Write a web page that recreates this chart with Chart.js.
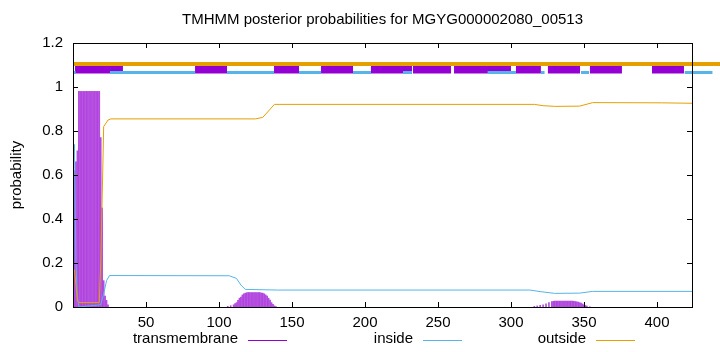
<!DOCTYPE html>
<html>
<head>
<meta charset="utf-8">
<script src="https://cdn.jsdelivr.net/npm/chart.js@4"></script>
<style>
  html, body { margin: 0; padding: 0; background: #fff; }
  #wrap { width: 720px; height: 352px; }
</style>
</head>
<body>
<div id="wrap"><canvas id="tmhmmChart" width="720" height="352"></canvas></div>
<script>
// Residue positions / posterior values
const tmResidues = [
  1, 2, 3, 4, 5, 6, 7, 8, 9, 10, 11, 12, 13, 14, 15, 16, 17, 18, 19, 20, 21, 22, 23, 24,
  106, 108, 110, 111, 112, 113, 114, 115, 116, 117, 118, 119, 120, 121, 122, 123, 124, 125,
  126, 127, 128, 129, 130, 131, 132, 133, 134, 135, 136, 137, 138, 139,
  316, 318, 320, 322, 324, 326, 328, 329, 330, 331, 332, 333, 334, 335, 336, 337, 338, 339,
  340, 341, 342, 343, 344, 345, 346, 347, 348, 349, 350, 351, 352, 354
];
const tmValues = [
  0.62, 0.66, 0.71, 0.98, 0.98, 0.98, 0.98, 0.98, 0.98, 0.98, 0.98, 0.98, 0.98, 0.98, 0.98, 0.98, 0.98, 0.98, 0.77, 0.45, 0.12, 0.05, 0.03, 0.01,
  0.003, 0.006, 0.01, 0.015, 0.02, 0.03, 0.04, 0.045, 0.055, 0.06, 0.063, 0.065, 0.066, 0.066, 0.066, 0.066, 0.066, 0.066,
  0.066, 0.066, 0.065, 0.064, 0.063, 0.06, 0.055, 0.05, 0.04, 0.032, 0.02, 0.012, 0.005, 0.002,
  0.003, 0.005, 0.008, 0.01, 0.014, 0.02, 0.025, 0.026, 0.027, 0.027, 0.027, 0.027, 0.027, 0.027, 0.027, 0.027, 0.027, 0.027,
  0.027, 0.027, 0.027, 0.026, 0.025, 0.024, 0.022, 0.02, 0.018, 0.014, 0.01, 0.007, 0.004, 0.001
];

const insideX = [1, 2, 3, 4, 19, 21, 23, 25, 107, 112, 115, 118, 140, 313, 320, 330, 347, 356, 424];
const insideY = [0.74, 0.2, 0.05, 0.0, 0.01, 0.06, 0.12, 0.143, 0.142, 0.13, 0.1, 0.08, 0.077, 0.077, 0.07, 0.062, 0.063, 0.071, 0.071];

const outsideX = [1, 2, 3, 4, 18, 19, 20, 21, 24, 26, 125, 130, 138, 316, 322, 330, 347, 356, 403, 424];
const outsideY = [0.17, 0.1, 0.03, 0.02, 0.02, 0.2, 0.5, 0.82, 0.85, 0.855, 0.855, 0.862, 0.921, 0.921, 0.915, 0.912, 0.913, 0.929, 0.928, 0.926];

// header bars above the curves (start, end residue)
const headerTm = [[1.4, 34.2], [83.6, 105.5], [137.7, 154.8], [169.9, 191.8], [204.1, 232.2], [232.9, 258.9],
                  [261, 300], [303.4, 320.5], [325.3, 347.3], [354.1, 376], [396.6, 418.5], [440.4, 445]];
const headerInside = [[0, 1.8], [25.3, 83.6], [105.5, 137.7], [154.8, 169.9], [191.8, 204.1], [226, 232.2],
                      [284, 303.4], [320.5, 323], [348, 353.5], [419, 438]];
const headerOutside = [[0, 445]];

const xTicks = [50, 100, 150, 200, 250, 300, 350, 400];
const yTicks = [0, 0.2, 0.4, 0.6, 0.8, 1, 1.2];

const legendLabels = ["transmembrane", "inside", "outside"];

const colTm = "#9400d3";
const colIn = "#56b4e9";
const colOut = "#e69f00";

function zip(xs, ys) {
  return xs.map((x, i) => ({ x: x, y: ys[i] }));
}

function segments(list, y) {
  const pts = [];
  list.forEach(s => {
    pts.push({ x: s[0], y: y });
    pts.push({ x: s[1], y: y });
    pts.push({ x: s[1], y: null });
  });
  return pts;
}

const FONT = "'Liberation Sans', Arial, sans-serif";
Chart.defaults.font.family = FONT;
Chart.defaults.font.size = 15;
Chart.defaults.color = "#000";

// frame, inward ticks, title, axis label and gnuplot-like key
const gnuplotDecor = {
  id: "gnuplotDecor",
  afterDraw(chart) {
    const ctx = chart.ctx;
    const a = chart.chartArea;
    const xs = chart.scales.x, ys = chart.scales.y;
    const L = Math.round(a.left), R = Math.round(a.right);
    const T = Math.round(a.top), B = Math.round(a.bottom);
    ctx.save();
    ctx.fillStyle = "#000";
    xTicks.forEach(t => {
      const px = Math.round(xs.getPixelForValue(t));
      ctx.fillRect(px, B - 5, 1, 5);
      ctx.fillRect(px, T, 1, 5);
    });
    yTicks.forEach(t => {
      const py = Math.round(ys.getPixelForValue(t));
      ctx.fillRect(L, py, 5, 1);
      ctx.fillRect(R - 5, py, 5, 1);
    });
    ctx.fillRect(L, T, R - L + 1, 1);
    ctx.fillRect(L, B, R - L + 1, 1);
    ctx.fillRect(L, T, 1, B - T);
    ctx.fillRect(R, T, 1, B - T);

    ctx.font = "15px " + FONT;
    ctx.textAlign = "center";
    ctx.textBaseline = "middle";
    ctx.fillText("TMHMM posterior probabilities for MGYG000002080_00513", (L + R) / 2, 20);

    ctx.save();
    ctx.translate(17, (T + B) / 2);
    ctx.rotate(-Math.PI / 2);
    ctx.fillText("probability", 0, 0);
    ctx.restore();

    // key: text right-justified, sample line after it
    const keyEnds = [238, 413, 586];
    const cols = [colTm, colIn, colOut];
    ctx.textAlign = "right";
    legendLabels.forEach((lab, i) => {
      ctx.fillStyle = "#000";
      ctx.fillText(lab, keyEnds[i], 339);
      ctx.fillStyle = cols[i];
      ctx.fillRect(keyEnds[i] + 10, 340, 39, 1);
    });
    ctx.restore();
  }
};

new Chart(document.getElementById("tmhmmChart"), {
  data: {
    datasets: [
      {
        type: "bar",
        label: "transmembrane",
        data: zip(tmResidues, tmValues),
        backgroundColor: "rgba(148,0,211,0.7)",
        barThickness: 1,
        order: 3
      },
      {
        type: "line",
        label: "inside",
        data: zip(insideX, insideY),
        borderColor: colIn,
        borderWidth: 1,
        pointRadius: 0,
        tension: 0,
        order: 2
      },
      {
        type: "line",
        label: "outside",
        data: zip(outsideX, outsideY),
        borderColor: colOut,
        borderWidth: 1,
        pointRadius: 0,
        tension: 0,
        order: 1
      },
      {
        type: "line",
        data: segments(headerTm, 1.079),
        borderColor: colTm,
        borderWidth: 8,
        borderCapStyle: "butt",
        pointRadius: 0,
        spanGaps: false,
        clip: false,
        order: 6
      },
      {
        type: "line",
        data: segments(headerInside, 1.066),
        borderColor: colIn,
        borderWidth: 3,
        borderCapStyle: "butt",
        pointRadius: 0,
        spanGaps: false,
        clip: false,
        order: 5
      },
      {
        type: "line",
        data: segments(headerOutside, 1.105),
        borderColor: colOut,
        borderWidth: 4,
        borderCapStyle: "butt",
        pointRadius: 0,
        spanGaps: false,
        clip: false,
        order: 4
      }
    ]
  },
  options: {
    responsive: false,
    animation: false,
    layout: { padding: { top: 43, right: 28, bottom: 0, left: 0 } },
    plugins: {
      legend: { display: false },
      tooltip: { enabled: false }
    },
    scales: {
      x: {
        type: "linear",
        min: 0,
        max: 424,
        offset: false,
        grid: { display: false, drawTicks: false, offset: false },
        border: { display: false },
        afterFit: s => { s.height = 45; },
        afterBuildTicks: s => { s.ticks = xTicks.map(v => ({ value: v })); },
        ticks: { padding: 7, maxRotation: 0, autoSkip: false }
      },
      y: {
        min: 0,
        max: 1.2,
        grid: { display: false, drawTicks: false },
        border: { display: false },
        afterFit: s => { s.width = 73; },
        afterBuildTicks: s => { s.ticks = yTicks.map(v => ({ value: v })); },
        ticks: {
          padding: 10,
          callback: v => String(Number(v.toFixed(1)))
        }
      }
    }
  },
  plugins: [gnuplotDecor]
});
</script>
</body>
</html>
